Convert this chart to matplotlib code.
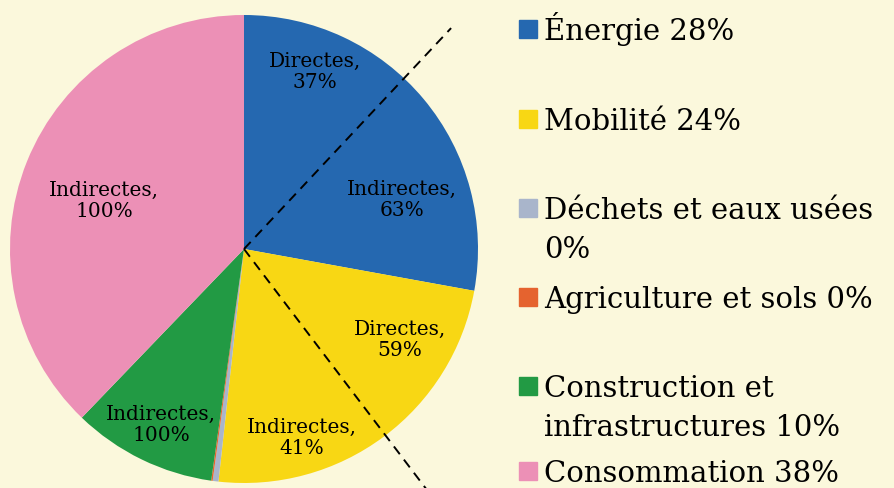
# Répartition des émissions par secteur (camembert + légende à droite)

import matplotlib.pyplot as plt
from matplotlib.patches import Rectangle

secteurs = ['Énergie', 'Mobilité', 'Déchets et eaux usées', 'Agriculture et sols',
            'Construction et\ninfrastructures', 'Consommation']
parts = [28, 24, 0.4, 0.1, 10, 38]
parts_legende = [28, 24, 0, 0, 10, 38]
couleurs = ['#2568B0', '#F8D714', '#A9B5CB', '#E5632F', '#229A44', '#EC90B6']

sous_labels = ['Directes,\n37%', 'Indirectes,\n63%', 'Directes,\n59%',
               'Indirectes,\n41%', 'Indirectes,\n100%', 'Indirectes,\n100%']

fond = '#FBF8DC'
plt.rcParams['font.family'] = ['DejaVu Serif']

fig = plt.figure(figsize=(8.94, 4.88), dpi=100, facecolor=fond)
ax = fig.add_axes([10/894, 5/488, 468/894, 468/488])
ax.set_facecolor(fond)

ax.pie(parts, colors=couleurs, startangle=90, counterclock=False,
       wedgeprops=dict(linewidth=0))
ax.set_xlim(-1, 1)
ax.set_ylim(-1, 1)
ax.set_aspect('equal')
ax.axis('off')

# traits pointillés (séparation directes / indirectes)
for fin in [(0.885, 0.944), (0.782, -1.03)]:
    ax.plot([0, fin[0]], [0, fin[1]], color='black', lw=1.4,
            dashes=(5, 3.5), clip_on=False)

pos_labels = [(0.303, 0.756), (0.675, 0.209), (0.667, -0.389),
              (0.248, -0.808), (-0.355, -0.752), (-0.598, 0.205)]
for txt, (x, y) in zip(sous_labels, pos_labels):
    ax.text(x, y, txt, ha='center', va='center', fontsize=14.5,
            linespacing=1.1)

# légende manuelle
y_carres = [29, 119, 208, 297, 386, 471]
for nom, p, c, yc in zip(secteurs, parts_legende, couleurs, y_carres):
    fig.patches.append(Rectangle((519/894, 1 - (yc + 9)/488), 18/894, 18/488,
                                 transform=fig.transFigure, color=c))
    lab = nom + ' ' + str(p) + '%'
    if nom.startswith('Déchets'):
        lab = nom + '\n' + str(p) + '%'
    for i, ligne in enumerate(lab.split('\n')):
        fig.text(544/894, 1 - (yc + 11 + i*39)/488, ligne, ha='left',
                 va='baseline', fontsize=21)

fig.savefig('out.png', dpi=100, facecolor=fond)
